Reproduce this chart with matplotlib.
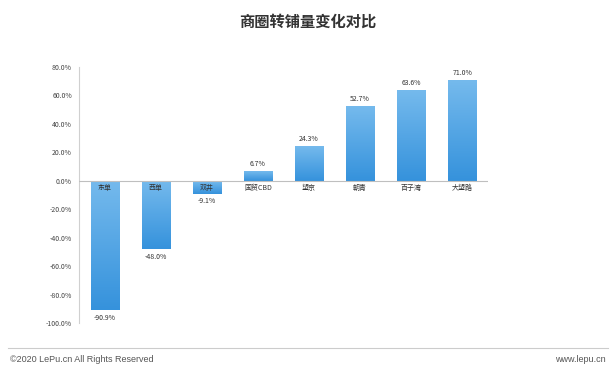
import numpy as np
import matplotlib
matplotlib.use("Agg")
import matplotlib.pyplot as plt
from matplotlib.colors import LinearSegmentedColormap

plt.rcParams['font.family'] = ['Noto Sans CJK SC', 'DejaVu Sans']

# data
areas = ['东单', '西单', '双井', '国贸CBD', '望京', '朝青', '百子湾', '大望路']
change = [-90.9, -48.0, -9.1, 6.7, 24.3, 52.7, 63.6, 71.0]
yticks = [-100, -80, -60, -40, -20, 0, 20, 40, 60, 80]

fig = plt.figure(figsize=(6.16, 3.69), dpi=100)
ax = fig.add_axes([79/616, (369-323)/369, (488-79)/616, (323-67)/369])

x = np.arange(len(areas))
bars = ax.bar(x, change, width=0.55, color='none', edgecolor='none', zorder=2)

# vertical gradient, light at top and darker at bottom
cmap = LinearSegmentedColormap.from_list('blu', ['#75baed', '#3592dc'])
grad = np.linspace(0, 1, 256).reshape(-1, 1)
for b in bars:
    x0, y0 = b.get_x(), b.get_y()
    w, h = b.get_width(), b.get_height()
    ylo, yhi = min(y0, y0 + h), max(y0, y0 + h)
    im = ax.imshow(grad, cmap=cmap, aspect='auto', extent=[x0, x0 + w, ylo, yhi],
                   origin='upper', zorder=2)
    im.set_clip_path(b)

ax.set_xlim(-0.5, len(areas) - 0.5)
ax.set_ylim(-100, 80)
ax.axhline(0, color='#bfbfbf', lw=0.8, zorder=3)

for xi, v, name in zip(x, change, areas):
    ax.text(xi, -2.5, name, ha='center', va='top', fontsize=5, color='#333333', zorder=4)
    if v >= 0:
        ax.text(xi, v + 2, f'{v:.1f}%', ha='center', va='bottom', fontsize=5, color='#333333')
    else:
        ax.text(xi, v - 2.5, f'{v:.1f}%', ha='center', va='top', fontsize=5, color='#333333')

ax.set_yticks(yticks)
ax.set_yticklabels([f'{t:.1f}%' for t in yticks], fontsize=5, color='#444444')
ax.tick_params(axis='y', length=0, pad=5)
ax.set_xticks([])
for s in ['top', 'right', 'bottom']:
    ax.spines[s].set_visible(False)
ax.spines['left'].set_color('#d0d0d0')
ax.spines['left'].set_linewidth(0.8)

fig.text(0.5, 1 - 22/369, '商圈转铺量变化对比', ha='center', va='center',
         fontsize=11, fontweight='bold', color='#333333')

# footer
fig.add_artist(plt.Line2D([8/616, 608/616], [1 - 348/369] * 2, color='#cccccc', lw=0.8))
fig.text(10/616, 1 - 359/369, '©2020 LePu.cn All Rights Reserved', ha='left', va='center',
         fontsize=6.5, color='#555555', family='Liberation Sans')
fig.text(606/616, 1 - 359/369, 'www.lepu.cn', ha='right', va='center',
         fontsize=6.5, color='#555555', family='Liberation Sans')

fig.savefig('out.png', dpi=100)
